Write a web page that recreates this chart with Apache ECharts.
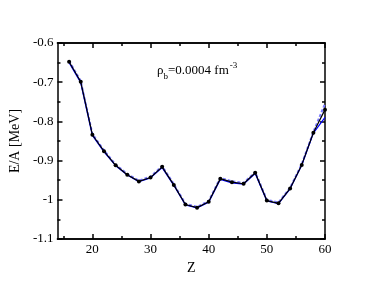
<!DOCTYPE html>
<html><head><meta charset="utf-8">
<script src="https://cdn.jsdelivr.net/npm/echarts@6/dist/echarts.min.js"></script>
<style>html,body{margin:0;padding:0;background:#fff}#c{width:366px;height:283px}</style>
</head><body><div id="c"></div>
<script>
const Z = [16,18,20,22,24,26,28,30,32,34,36,38,40,42,44,46,48,50,52,54,56,58,60];
const blackVals = [-0.648,-0.699,-0.834,-0.876,-0.912,-0.936,-0.953,-0.943,-0.916,-0.962,-1.012,-1.020,-1.005,-0.946,-0.955,-0.959,-0.931,-1.002,-1.009,-0.971,-0.911,-0.829,-0.770];
const blueVals = [-0.650,-0.701,-0.836,-0.878,-0.913,-0.937,-0.954,-0.944,-0.918,-0.963,-1.013,-1.021,-1.006,-0.948,-0.957,-0.960,-0.933,-1.003,-1.010,-0.972,-0.912,-0.830,-0.790];
const dashVals = [-0.646,-0.697,-0.832,-0.874,-0.910,-0.934,-0.951,-0.941,-0.914,-0.960,-1.010,-1.018,-1.003,-0.944,-0.953,-0.957,-0.929,-1.000,-1.007,-0.969,-0.909,-0.827,-0.755];
const xMajor = [20,30,40,50,60];
const xMinor = [15,25,35,45,55];
const yLabels = {'-0.6':'-0.6','-0.7':'-0.7','-0.8':'-0.8','-0.9':'-0.9','-1':'-1','-1.1':'-1.1'};

const font = 'Liberation Serif';
const chart = echarts.init(document.getElementById('c'));
const pair = a => Z.map((z,i)=>[z,a[i]]);
const axLine = {show:true, lineStyle:{color:'#000', width:1.5}};
function xax(pos, ticks, len, labels, extra){
  return Object.assign({type:'value', min:14, max:60, position:pos,
    axisLine:axLine, splitLine:{show:false},
    axisTick:{show:true, inside:true, length:len, customValues:ticks, lineStyle:{color:'#000',width:1.5}},
    axisLabel:labels ? {show:true, customValues:ticks, color:'#000', fontFamily:font, fontSize:13, margin:4} : {show:false}
  }, extra||{});
}
function yax(pos, labels, extra){
  return Object.assign({type:'value', min:-1.1, max:-0.6, interval:0.1, position:pos,
    axisLine:axLine, splitLine:{show:false},
    axisTick:{show:true, inside:true, length:5, lineStyle:{color:'#000',width:1.5}},
    minorTick:{show:true, splitNumber:2, length:3, lineStyle:{color:'#000',width:1.5}},
    axisLabel:labels ? {show:true, color:'#000', fontFamily:font, fontSize:13, margin:4,
      formatter:v=>{const k=String(Math.round(v*10)/10); return yLabels[k]!==undefined?yLabels[k]:k;}} : {show:false}
  }, extra||{});
}
chart.setOption({
  animation:false,
  grid:{left:43, top:43, right:41, bottom:44},
  xAxis:[
    xax('bottom', xMajor, 5, true, {name:'Z', nameLocation:'middle', nameGap:20, nameTextStyle:{color:'#000',fontFamily:font,fontSize:14}}),
    xax('bottom', xMinor, 3, false),
    xax('top', xMajor, 5, false),
    xax('top', xMinor, 3, false)
  ],
  yAxis:[
    yax('left', true, {name:'E/A [MeV]', nameLocation:'middle', nameGap:31, nameRotate:90, nameTextStyle:{color:'#000',fontFamily:font,fontSize:14}}),
    yax('right', false)
  ],
  series:[
    {type:'line', data:pair(dashVals), xAxisIndex:0, yAxisIndex:0, symbol:'none', lineStyle:{color:'#7878ff', width:2, type:[3,2]}, z:2},
    {type:'line', data:pair(blueVals), xAxisIndex:0, yAxisIndex:0, symbol:'none', lineStyle:{color:'#0000ff', width:1.2}, z:3},
    {type:'line', data:pair(blackVals), xAxisIndex:0, yAxisIndex:0, symbol:'circle', symbolSize:4, itemStyle:{color:'#000'}, lineStyle:{color:'#000', width:1.2}, z:4}
  ],
  graphic:[{type:'text', left:157, top:61, style:{
    text:'{a|ρ}{s|b}{a|=0.0004 fm}{p|-3}',
    rich:{
      a:{fontFamily:font, fontSize:13, color:'#000', lineHeight:20, verticalAlign:'middle'},
      s:{fontFamily:font, fontSize:9, color:'#000', lineHeight:20, verticalAlign:'bottom', padding:[6,0,0,0]},
      p:{fontFamily:font, fontSize:9, color:'#000', lineHeight:20, verticalAlign:'top', padding:[0,0,8,1]}
    }}}]
});
</script></body></html>
